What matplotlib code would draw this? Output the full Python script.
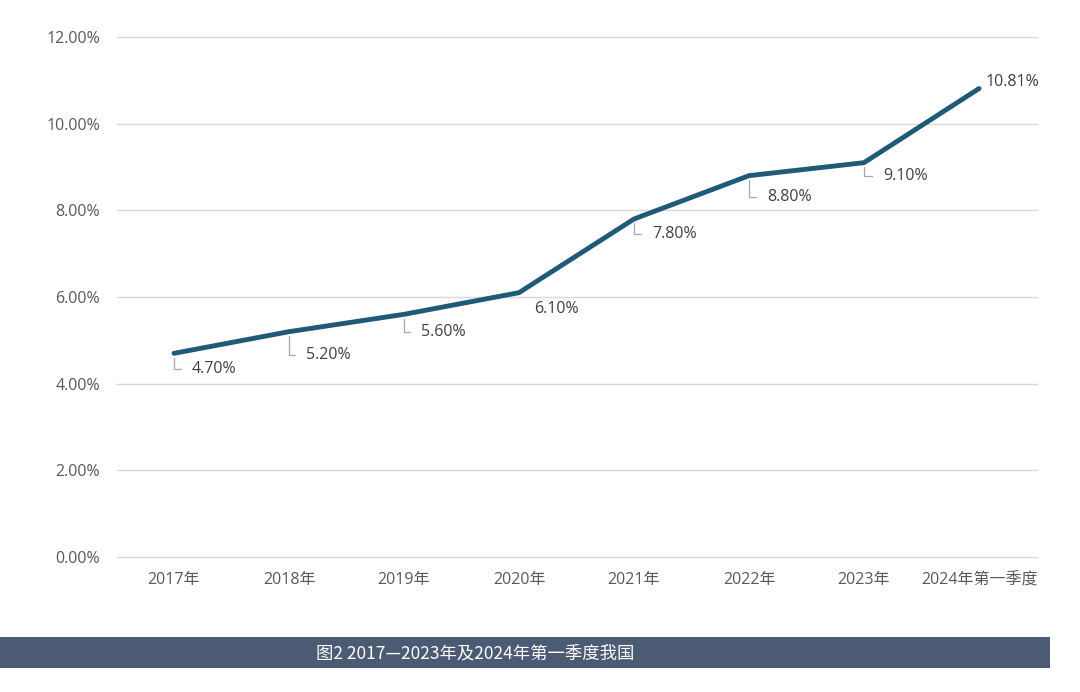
import matplotlib
matplotlib.use("Agg")
import matplotlib.pyplot as plt
from matplotlib.patches import Rectangle
from matplotlib.ticker import FuncFormatter

plt.rcParams['font.family'] = ['Open Sans', 'Noto Sans CJK SC', 'DejaVu Sans']

categories = ["2017年", "2018年", "2019年", "2020年", "2021年", "2022年", "2023年", "2024年第一季度"]
values = [4.70, 5.20, 5.60, 6.10, 7.80, 8.80, 9.10, 10.81]
value_labels = ["4.70%", "5.20%", "5.60%", "6.10%", "7.80%", "8.80%", "9.10%", "10.81%"]
# label offsets (pixels) and whether a leader line is drawn
label_dx = [18, 17, 17, 15, 18, 18, 19, 7]
label_dy = [-16, -23, -18, -16, -15, -21, -13, 7]
leaders = [True, True, True, False, True, True, True, False]
yticks = [0, 2, 4, 6, 8, 10, 12]
caption = "图2 2017—2023年及2024年第一季度我国"

W, H = 1080, 692
fig = plt.figure(figsize=(W / 100, H / 100), dpi=100)
ax = fig.add_axes([116.5 / W, 1 - 557 / H, 920 / W, 520 / H])

x = list(range(len(categories)))
ax.plot(x, values, color="#1f5a78", lw=3.5, solid_joinstyle="round", solid_capstyle="round", zorder=3)

ax.set_xlim(-0.5, len(categories) - 0.5)
ax.set_ylim(0, 12)
ax.set_yticks(yticks)
ax.yaxis.set_major_formatter(FuncFormatter(lambda v, p: f"{v:.2f}%"))
ax.set_xticks(x)
ax.set_xticklabels(categories)
ax.grid(axis="y", color="#d9d9d9", lw=1)
for gl in ax.yaxis.get_gridlines():
    gl.set_clip_on(False)
ax.set_axisbelow(True)
for s in ax.spines.values():
    s.set_visible(False)
ax.tick_params(length=0, labelsize=11.5, colors="#595959")
ax.tick_params(axis="y", pad=12)
ax.tick_params(axis="x", pad=11)

for xi, v, lab, dx, dy, ld in zip(x, values, value_labels, label_dx, label_dy, leaders):
    if ld:
        ax.annotate(lab, xy=(xi, v), xytext=(dx, dy), textcoords="offset pixels",
                    ha="left", va="center", fontsize=11.5, color="#404040",
                    arrowprops=dict(arrowstyle="-", color="#a6a6a6", lw=0.9,
                                    connectionstyle="angle,angleA=0,angleB=90,rad=0",
                                    relpos=(0, 0.5), shrinkA=6, shrinkB=3))
    else:
        ax.annotate(lab, xy=(xi, v), xytext=(dx, dy), textcoords="offset pixels",
                    ha="left", va="center", fontsize=11.5, color="#404040")

# caption banner
fig.patches.append(Rectangle((0, 1 - 668 / H), 1050 / W, 31 / H, transform=fig.transFigure,
                             facecolor="#4b5b74", edgecolor="none"))
fig.text(316 / W, 1 - 653 / H, caption, color="white", fontsize=12.5, ha="left", va="center",
         family=['Noto Sans CJK SC', 'DejaVu Sans'])

fig.savefig("out.png", dpi=100, facecolor="white")
